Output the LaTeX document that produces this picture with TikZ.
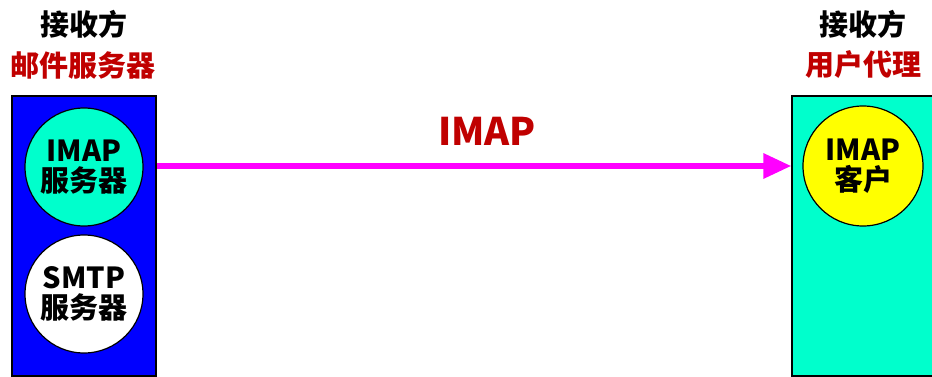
\documentclass[tikz,border=0pt]{standalone}
\usepackage{fontspec}
\setmainfont{Noto Sans CJK SC}
\usetikzlibrary{arrows.meta,positioning}
\definecolor{mailblue}{RGB}{0,0,255}
\definecolor{aqua}{RGB}{0,255,204}
\definecolor{titlered}{RGB}{192,0,0}
\definecolor{linkpink}{RGB}{255,0,255}
\definecolor{cliyellow}{RGB}{255,255,0}
\tikzset{
  head/.style={font=\fontsize{29}{33}\selectfont\bfseries, align=center},
  proc/.style={circle, draw, line width=1.2pt, minimum size=118pt, inner sep=0pt,
    font=\fontsize{29}{32}\selectfont\bfseries, align=center},
}

\begin{document}
\begin{tikzpicture}[x=1pt, y=-1pt, >=Stealth]
    \useasboundingbox (0,0) rectangle (932,377);
    % 接收方邮件服务器
    \node[draw, line width=1.2pt, fill=mailblue, minimum width=144pt, minimum height=280pt, inner sep=0pt] (mbox) at (84,236) {};
    \node[head] (mtop) at (84,24) {接收方};
    \node[head, text=titlered] (mname) at (83,65) {邮件服务器};
    \node[proc, fill=aqua] (imapsrv) at (84,167) {IMAP\\[-2pt]服务器};
    \node[proc, fill=white] (smtpsrv) at (84,294) {SMTP\\[-2pt]服务器};

    % 接收方用户代理
    \node[draw, line width=1.2pt, fill=aqua, minimum width=150pt, minimum height=280pt, inner sep=0pt] (ubox) at (867,236) {};
    \node[head] (utop) at (863,24) {接收方};
    \node[head, text=titlered] (uname) at (863,65) {用户代理};
    \node[proc, fill=cliyellow, minimum size=120pt] (imapcli) at (863,166) {IMAP\\[-2pt]客户};

    % IMAP 协议
    \draw[linkpink, line width=6pt, arrows={-Triangle[length=28pt, width=24pt]}]
      (mbox.east |- imapcli) -- (ubox.west |- imapcli);
    \node[font=\fontsize{38}{40}\selectfont\bfseries, text=titlered] (proto) at (487,131) {IMAP};
\end{tikzpicture}
\end{document}
